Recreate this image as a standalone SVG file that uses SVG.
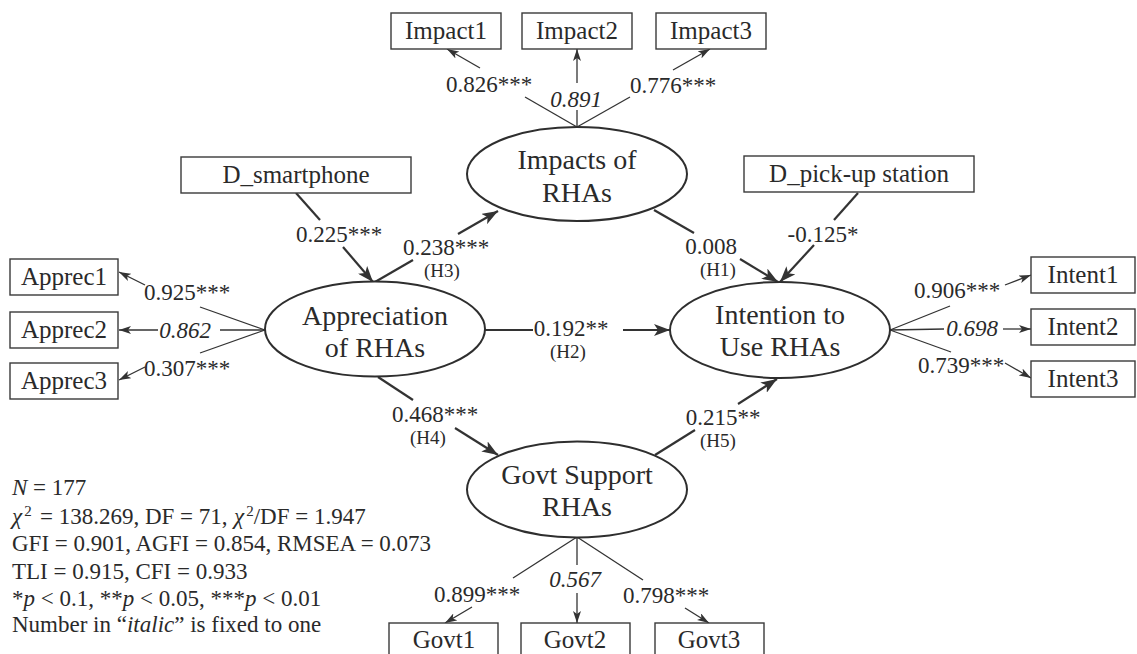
<svg xmlns="http://www.w3.org/2000/svg" width="1137" height="654" viewBox="0 0 1137 654">
<style>
text{font-family:"Liberation Serif","Times New Roman",serif;fill:#2a2a2a;text-anchor:middle}
.box{fill:#fff;stroke:#3a3a3a;stroke-width:1.4}
.bt{font-size:25px}
.ell{fill:#fff;stroke:#2e2e2e;stroke-width:2}
.et{font-size:28px}
.lb{font-size:23px}
.h{font-size:19px}
.it{font-style:italic}
.st{font-size:23px;text-anchor:start}
.sup{font-size:15px}
.thin{stroke:#333;stroke-width:1.3;fill:none}
.thick{stroke:#333;stroke-width:2.2;fill:none}
.sa{marker-end:url(#sa)}
.ba{marker-end:url(#ba)}
</style>
<defs>
<marker id="sa" viewBox="0 0 12 8" refX="12" refY="4" markerWidth="12" markerHeight="8" orient="auto" markerUnits="userSpaceOnUse"><path d="M0,0 L12,4 L0,8 L3,4 z" fill="#333"/></marker>
<marker id="ba" viewBox="0 0 16 12" refX="16" refY="6" markerWidth="16" markerHeight="12" orient="auto" markerUnits="userSpaceOnUse"><path d="M0,0 L16,6 L0,12 L4,6 z" fill="#333"/></marker>
</defs>
<rect width="1137" height="654" fill="#fff"/>

<g id="connectors">
<path class="thin" d="M577,127 L525,97"/><path class="thin sa" d="M480,68 L447,49"/>
<path class="thin" d="M577,127 L577,110"/><path class="thin sa" d="M577,83 L577,49"/>
<path class="thin" d="M577,127 L630,97"/><path class="thin sa" d="M673,70 L710,49"/>
<path class="thin" d="M265,330 L200,307"/><path class="thin sa" d="M145,285 L119,272"/>
<path class="thin" d="M265,330 L220,330"/><path class="thin sa" d="M158,330 L119,330"/>
<path class="thin" d="M265,330 L200,353"/><path class="thin sa" d="M145,367 L119,380"/>
<path class="thin" d="M890,330 L950,306"/><path class="thin sa" d="M1005,285 L1031,275"/>
<path class="thin" d="M890,330 L944,329"/><path class="thin sa" d="M1003,329 L1031,329"/>
<path class="thin" d="M890,330 L951,352"/><path class="thin sa" d="M1005,363 L1031,378"/>
<path class="thin" d="M577,537 L513,578"/><path class="thin sa" d="M472,607 L445,623"/>
<path class="thin" d="M577,537 L577,565"/><path class="thin sa" d="M577,593 L577,623"/>
<path class="thin" d="M577,537 L643,580"/><path class="thin sa" d="M685,608 L709,623"/>
<path class="thick" d="M296,193 L320,220"/><path class="thick ba" d="M343,247 L373,282"/>
<path class="thick" d="M858,193 L834,220"/><path class="thick ba" d="M814,245 L780,282"/>
<path class="thick" d="M375,282 L413,260"/><path class="thick ba" d="M458,234 L498,211"/>
<path class="thick" d="M654,210 L694,233"/><path class="thick ba" d="M740,259 L778,282"/>
<path class="thick" d="M485,330 L533,330"/><path class="thick ba" d="M623,330 L670,330"/>
<path class="thick" d="M378,377 L413,400"/><path class="thick ba" d="M455,428 L498,455"/>
<path class="thick" d="M655,455 L695,430"/><path class="thick ba" d="M738,404 L777,379"/>
</g>

<g id="impact1"><rect class="box" x="391" y="13" width="110" height="36"/><text class="bt" x="446" y="39">Impact1</text></g>
<g id="impact2"><rect class="box" x="522" y="13" width="110" height="36"/><text class="bt" x="577" y="39">Impact2</text></g>
<g id="impact3"><rect class="box" x="656" y="13" width="110" height="36"/><text class="bt" x="711" y="39">Impact3</text></g>

<g id="d-smartphone"><rect class="box" x="181" y="157" width="230" height="36"/><text class="bt" x="296" y="183">D_smartphone</text></g>
<g id="d-pickup"><rect class="box" x="744" y="156" width="230" height="36"/><text class="bt" x="859" y="182">D_pick-up station</text></g>

<g id="apprec1"><rect class="box" x="10" y="259" width="108" height="36"/><text class="bt" x="64" y="285">Apprec1</text></g>
<g id="apprec2"><rect class="box" x="10" y="312" width="108" height="36"/><text class="bt" x="64" y="338">Apprec2</text></g>
<g id="apprec3"><rect class="box" x="10" y="363" width="108" height="36"/><text class="bt" x="64" y="389">Apprec3</text></g>

<g id="intent1"><rect class="box" x="1031" y="257" width="104" height="36"/><text class="bt" x="1083" y="283">Intent1</text></g>
<g id="intent2"><rect class="box" x="1031" y="309" width="104" height="36"/><text class="bt" x="1083" y="335">Intent2</text></g>
<g id="intent3"><rect class="box" x="1031" y="361" width="104" height="36"/><text class="bt" x="1083" y="387">Intent3</text></g>

<g id="govt1"><rect class="box" x="389" y="623" width="109" height="40"/><text class="bt" x="444" y="648">Govt1</text></g>
<g id="govt2"><rect class="box" x="521" y="623" width="109" height="40"/><text class="bt" x="575" y="648">Govt2</text></g>
<g id="govt3"><rect class="box" x="655" y="623" width="109" height="40"/><text class="bt" x="709" y="648">Govt3</text></g>

<g id="impacts"><ellipse class="ell" cx="577" cy="174" rx="110" ry="47"/><text class="et" x="577" y="169">Impacts of</text><text class="et" x="577" y="202">RHAs</text></g>
<g id="appreciation"><ellipse class="ell" cx="375" cy="329" rx="110" ry="47.5"/><text class="et" x="375" y="325">Appreciation</text><text class="et" x="375" y="357">of RHAs</text></g>
<g id="intention"><ellipse class="ell" cx="780" cy="330" rx="110" ry="48"/><text class="et" x="780" y="324">Intention to</text><text class="et" x="780" y="356">Use RHAs</text></g>
<g id="govt-support"><ellipse class="ell" cx="577" cy="489.5" rx="110" ry="48"/><text class="et" x="577" y="484">Govt Support</text><text class="et" x="577" y="516">RHAs</text></g>

<g id="labels">
<text class="lb" x="489" y="92">0.826***</text>
<text class="lb it" x="576" y="107">0.891</text>
<text class="lb" x="673" y="93">0.776***</text>
<text class="lb" x="339" y="242">0.225***</text>
<text class="lb" x="446" y="255">0.238***</text><text class="h" x="442" y="277">(H3)</text>
<text class="lb" x="711" y="254">0.008</text><text class="h" x="718" y="276">(H1)</text>
<text class="lb" x="823" y="242">-0.125*</text>
<text class="lb" x="571" y="336">0.192**</text><text class="h" x="568" y="358">(H2)</text>
<text class="lb" x="187" y="300">0.925***</text>
<text class="lb it" x="185" y="338">0.862</text>
<text class="lb" x="187" y="376">0.307***</text>
<text class="lb" x="957" y="298">0.906***</text>
<text class="lb it" x="972" y="336">0.698</text>
<text class="lb" x="961" y="373">0.739***</text>
<text class="lb" x="435" y="422">0.468***</text><text class="h" x="428" y="444">(H4)</text>
<text class="lb" x="723" y="425">0.215**</text><text class="h" x="718" y="447">(H5)</text>
<text class="lb" x="477" y="602">0.899***</text>
<text class="lb it" x="575" y="587">0.567</text>
<text class="lb" x="666" y="603">0.798***</text>
</g>

<g id="stats">
<text class="st" x="12" y="495"><tspan class="it">N</tspan> = 177</text>
<text class="st" x="12" y="524"><tspan class="it">χ</tspan><tspan class="sup" dx="2" dy="-8">2</tspan><tspan x="40" dy="8">= 138.269, DF = 71,</tspan><tspan class="it" x="234">χ</tspan><tspan class="sup" dx="2" dy="-8">2</tspan><tspan dy="8">/DF = 1.947</tspan></text>
<text class="st" x="12" y="551">GFI = 0.901, AGFI = 0.854, RMSEA = 0.073</text>
<text class="st" x="12" y="579">TLI = 0.915, CFI = 0.933</text>
<text class="st" x="12" y="606">*<tspan class="it">p</tspan> &lt; 0.1, **<tspan class="it">p</tspan> &lt; 0.05, ***<tspan class="it">p</tspan> &lt; 0.01</text>
<text class="st" x="12" y="632">Number in “<tspan class="it">italic</tspan>” is fixed to one</text>
</g>
</svg>
